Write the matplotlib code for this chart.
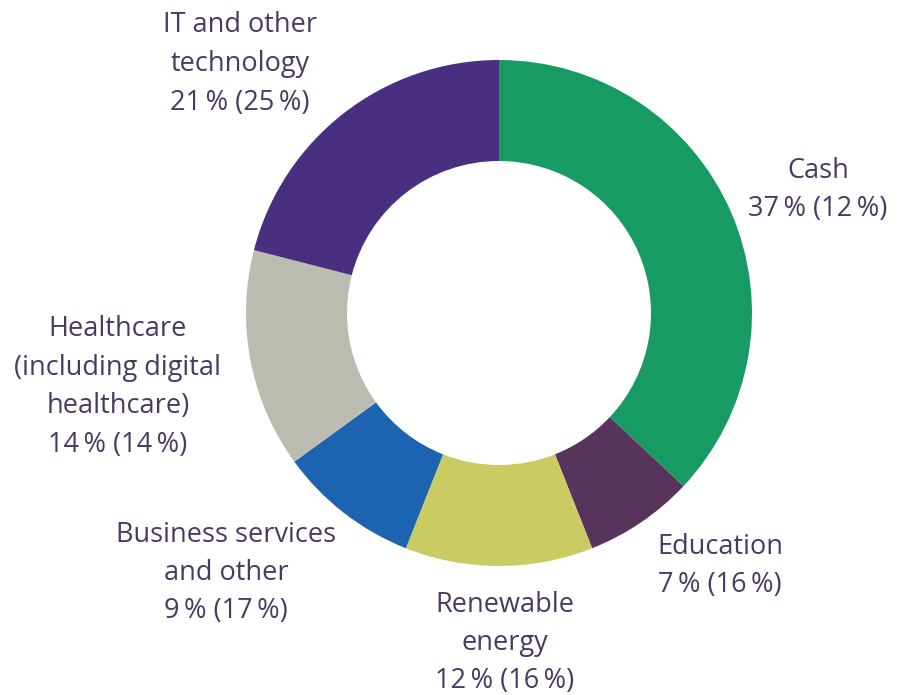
import matplotlib
matplotlib.use("Agg")
import matplotlib.pyplot as plt

# data: share of portfolio (prior year in brackets)
sectors = ["Cash", "Education", "Renewable\nenergy", "Business services\nand other",
           "Healthcare\n(including digital\nhealthcare)", "IT and other\ntechnology"]
share_now = [37, 7, 12, 9, 14, 21]
share_prev = [12, 16, 16, 17, 14, 25]

colors = ["#189a64", "#58345c", "#cbcb63", "#1c64b0", "#bbbbb0", "#482f80"]
text_col = "#4b3a60"

# label anchor points in pixel coords (x, y from top)
label_pos = [(818, 190), (720, 566), (505, 643), (226, 573), (118, 387), (240, 64)]

W, H = 904, 695
fig = plt.figure(figsize=(W / 100, H / 100), dpi=100)
ax = fig.add_axes([0, 0, 1, 1])
ax.set_xlim(0, W)
ax.set_ylim(0, H)
ax.set_aspect("equal")
ax.axis("off")

ax.pie(share_now, colors=colors, startangle=90, counterclock=False,
       center=(499, H - 313), radius=253,
       wedgeprops=dict(width=101, linewidth=0))

for name, a, b, (px, py) in zip(sectors, share_now, share_prev, label_pos):
    txt = f"{name}\n{a}\u2009% ({b}\u2009%)"
    ax.text(px, H - py, txt, ha="center", va="center", multialignment="center",
            fontsize=19.5, color=text_col, family="Open Sans", linespacing=1.5)

ax.set_xlim(0, W)
ax.set_ylim(0, H)
fig.savefig("out.png", dpi=100)
